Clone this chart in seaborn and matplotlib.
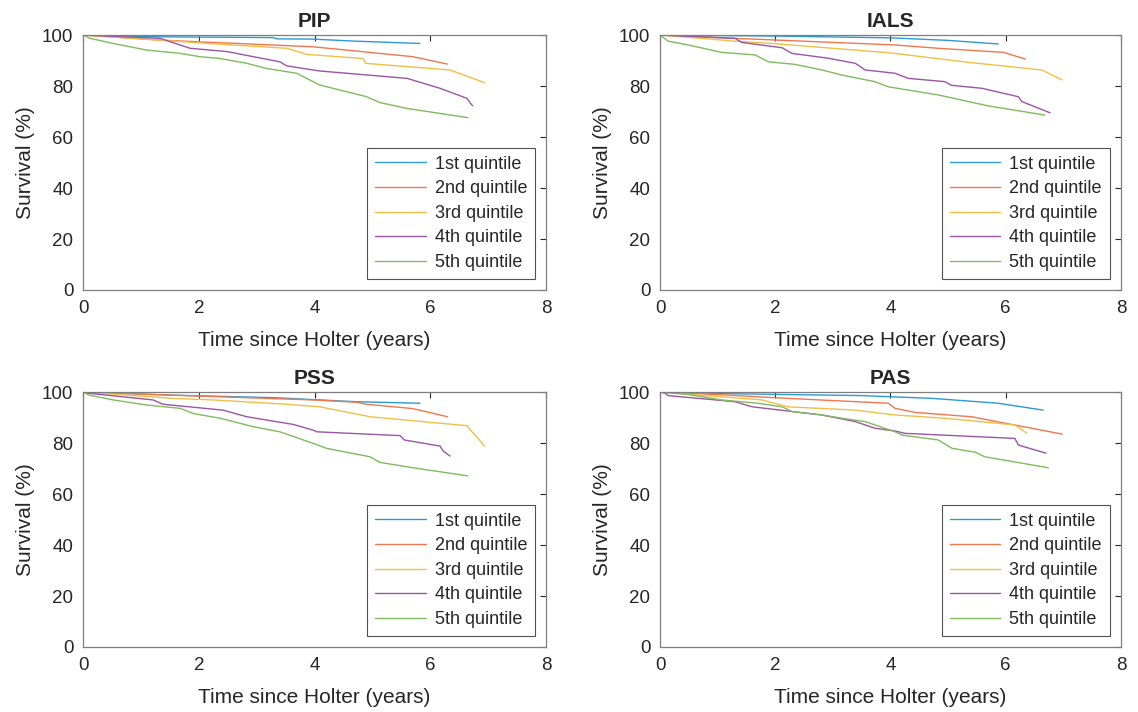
import numpy as np
import pandas as pd
import matplotlib
matplotlib.use('Agg')
import matplotlib.pyplot as plt
import seaborn as sns

# 패널 이름과 범례 라벨
panels = ['PIP', 'IALS', 'PSS', 'PAS']
quintiles = ['1st quintile', '2nd quintile', '3rd quintile', '4th quintile', '5th quintile']

# 각 패널의 생존 곡선 (시간: 년, 생존률: %) - 그림에서 읽은 값
pip_t = [[0, 1.3, 3.28, 3.35, 3.97, 4.7, 5.82],
         [0, 1.33, 2.66, 3.97, 4.55, 5.7, 6.3],
         [0, 1.33, 2.14, 3.52, 3.87, 4.84, 4.88, 6.34, 6.94],
         [0, 1.33, 1.85, 2.49, 3.4, 3.52, 4.09, 5.6, 6.17, 6.63, 6.73],
         [0, 0.12, 0.52, 1.1, 1.68, 2.02, 2.37, 2.83, 3.17, 3.69, 4.09, 4.9, 5.13, 5.6, 6.65]]
pip_s = [[100, 99.3, 99.0, 98.5, 98.4, 97.6, 96.7],
         [100, 98, 96.7, 95.4, 94.1, 91.5, 88.6],
         [100, 98, 96.7, 94.8, 92.4, 90.8, 88.9, 86.3, 81.3],
         [100, 98.7, 94.8, 93.5, 89.5, 87.9, 85.9, 83.0, 79.1, 75.2, 72.2],
         [100, 98.7, 96.7, 94.1, 92.8, 91.5, 90.8, 88.9, 86.9, 85.0, 80.4, 75.8, 73.5, 71.2, 67.6]]

ials_t = [[0, 2.0, 4.0, 5.0, 5.87],
          [0, 1.3, 4.08, 4.83, 5.96, 6.34],
          [0, 1.3, 2.05, 4.0, 5.35, 6.63, 6.98],
          [0, 1.3, 1.42, 2.12, 2.29, 2.92, 3.39, 3.56, 4.08, 4.31, 4.95, 5.05, 5.59, 6.22, 6.28, 6.77],
          [0, 0.14, 0.49, 1.07, 1.65, 1.88, 2.34, 2.81, 3.16, 3.73, 3.96, 4.83, 5.7, 6.68]]
ials_s = [[100, 99.6, 98.9, 97.9, 96.5],
          [100, 98.7, 96.1, 94.8, 93.2, 90.6],
          [100, 97.6, 96.5, 93.0, 89.3, 86.3, 82.4],
          [100, 98.7, 97.1, 95.0, 92.8, 90.9, 88.9, 86.3, 85.0, 83.0, 81.7, 80.3, 79.1, 75.8, 73.9, 69.5],
          [100, 97.6, 96.1, 93.2, 92.2, 89.5, 88.5, 86.3, 84.3, 81.7, 79.7, 76.5, 72.2, 68.6]]

pss_t = [[0, 1.5, 3.28, 4.72, 5.82],
         [0, 1.5, 3.97, 4.72, 4.9, 5.7, 6.3],
         [0, 1.55, 2.25, 3.52, 4.09, 4.96, 6.63, 6.94],
         [0, 0.1, 1.21, 1.38, 2.42, 2.83, 3.63, 3.97, 4.04, 5.48, 5.55, 6.17, 6.22, 6.34],
         [0, 0.1, 0.52, 1.1, 1.68, 1.9, 2.37, 2.94, 3.4, 3.97, 4.21, 4.96, 5.13, 5.7, 6.65]]
pss_s = [[100, 98.8, 97.8, 96.2, 95.6],
         [100, 98.8, 96.9, 96.0, 95.2, 93.5, 90.3],
         [100, 97.5, 96.9, 95.2, 94.2, 90.3, 86.8, 78.8],
         [100, 99.5, 96.9, 95.2, 92.9, 90.3, 87.3, 85.1, 84.4, 82.9, 81.2, 78.8, 76.9, 74.9],
         [100, 98.8, 96.9, 94.9, 93.6, 91.6, 89.7, 86.4, 84.4, 79.9, 77.9, 74.6, 72.4, 70.3, 67.1]]

pas_t = [[0, 1.35, 3.5, 4.73, 5.87, 6.65],
         [0, 1.0, 2.22, 3.96, 4.08, 4.43, 5.41, 6.98],
         [0, 1.77, 2.22, 3.39, 4.08, 4.95, 6.16, 6.37],
         [0, 0.09, 0.14, 1.3, 1.6, 2.81, 3.39, 3.73, 4.08, 4.25, 6.16, 6.22, 6.7],
         [0, 0.5, 1.07, 1.7, 2.12, 2.29, 2.81, 3.16, 3.56, 4.08, 4.2, 4.83, 5.07, 5.47, 5.64, 6.74]]
pas_s = [[100, 99.3, 98.6, 97.5, 95.6, 92.9],
         [100, 99.0, 97.5, 95.6, 93.6, 92.0, 90.3, 83.5],
         [100, 96.9, 94.2, 92.9, 91.0, 89.7, 87.1, 83.8],
         [100, 99.5, 98.6, 96.2, 94.2, 91.0, 88.4, 85.8, 84.7, 83.8, 81.8, 79.2, 76.0],
         [100, 99.0, 96.9, 95.6, 94.2, 92.3, 91.0, 89.7, 88.4, 84.4, 83.1, 81.2, 77.9, 76.4, 74.6, 70.3]]

all_t = [pip_t, ials_t, pss_t, pas_t]
all_s = [pip_s, ials_s, pss_s, pas_s]

# MATLAB 기본 색상을 흐릿하게 (스캔 이미지 느낌)
colors = ['#2b9ad6', '#f0774e', '#f1bf45', '#9a55a8', '#80bb5c']

sns.set_style('white')
plt.rcParams['font.family'] = ['Liberation Sans', 'DejaVu Sans']

fig = plt.figure(figsize=(11.38, 7.12), dpi=100)
positions = [[0.073, 0.5927, 0.4068, 0.3581],
             [0.580, 0.5927, 0.4050, 0.3581],
             [0.073, 0.0913, 0.4068, 0.3581],
             [0.580, 0.0913, 0.4050, 0.3581]]

for k, name in enumerate(panels):
    rows = []
    for q, lab in enumerate(quintiles):
        for t, s in zip(all_t[k][q], all_s[k][q]):
            rows.append({'time': t, 'surv': s, 'group': lab})
    df = pd.DataFrame(rows)

    ax = fig.add_axes(positions[k])
    sns.lineplot(data=df, x='time', y='surv', hue='group', palette=colors,
                 estimator=None, sort=False, lw=1.0, ax=ax)
    ax.set_xlim(0, 8)
    ax.set_ylim(0, 100)
    ax.set_xticks([0, 2, 4, 6, 8])
    ax.set_yticks([0, 20, 40, 60, 80, 100])
    ax.tick_params(direction='in', length=4, width=0.8, top=True, right=True,
                   labelsize=13.5, colors='#262626', pad=7)
    for sp in ax.spines.values():
        sp.set_color('#7f7f7f')
        sp.set_linewidth(0.9)
    ax.set_xlabel('Time since Holter (years)', fontsize=15, color='#262626', labelpad=10)
    ax.set_ylabel('Survival (%)', fontsize=15, color='#262626', labelpad=5)
    ax.set_title(name, fontsize=15, fontweight='bold', pad=6)
    leg = ax.legend(loc='lower right', fontsize=13, frameon=True, fancybox=False,
                    edgecolor='#262626', handlelength=2.8, handletextpad=0.5,
                    borderaxespad=0.6, labelspacing=0.42, borderpad=0.45)
    leg.get_frame().set_linewidth(0.8)

fig.savefig('out.png', dpi=100)
